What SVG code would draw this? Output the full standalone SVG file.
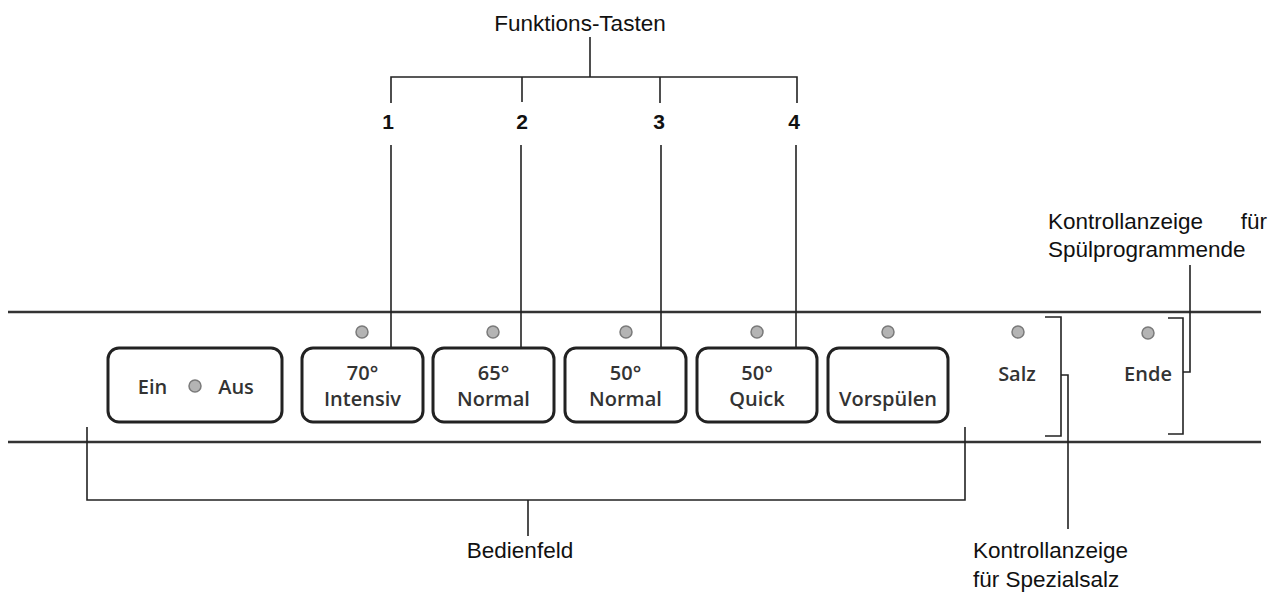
<svg xmlns="http://www.w3.org/2000/svg" width="1273" height="598" viewBox="0 0 1273 598">
<style>
.lbl{font-family:"Liberation Sans",Arial,sans-serif;font-size:22.5px;fill:#111}
.num{font-family:"Liberation Sans",Arial,sans-serif;font-size:21px;font-weight:bold;fill:#111;text-anchor:middle}
.bt{font-family:"Open Sans","Noto Sans",sans-serif;font-size:20px;font-weight:600;fill:#333;text-anchor:middle}
.btn{fill:#fff;stroke:#222;stroke-width:3}
.dot{fill:#b4b4b4;stroke:#7a7a7a;stroke-width:1.5}
.panel{stroke:#333;stroke-width:2.5;fill:none}
.ln{stroke:#222;stroke-width:1.6;fill:none}
</style>
<rect width="1273" height="598" fill="#fff"/>
<g id="panel">
<line class="panel" x1="8" y1="312" x2="1261" y2="312"/>
<line class="panel" x1="8" y1="442" x2="1261" y2="442"/>
</g>
<g id="connectors">
<polyline class="ln" points="391,103 391,77 797,77 797,103"/>
<line class="ln" x1="590" y1="37" x2="590" y2="77"/>
<line class="ln" x1="522" y1="77" x2="522" y2="102"/>
<line class="ln" x1="660" y1="77" x2="660" y2="103"/>
<line class="ln" x1="391" y1="145" x2="391" y2="367"/>
<line class="ln" x1="521" y1="145" x2="521" y2="367"/>
<line class="ln" x1="661" y1="145" x2="661" y2="367"/>
<line class="ln" x1="796" y1="145" x2="796" y2="367"/>
<polyline class="ln" points="87,427 87,500 965,500 965,427"/>
<line class="ln" x1="528" y1="500" x2="528" y2="536"/>
<polyline class="ln" points="1045,317 1061,317 1061,436 1045,436"/>
<polyline class="ln" points="1061,375 1068,375 1068,529"/>
<polyline class="ln" points="1168,318 1183,318 1183,434 1168,434"/>
<polyline class="ln" points="1183,372 1190,372 1190,265"/>
</g>
<g id="funktions-tasten">
<text class="lbl" x="580" y="31" text-anchor="middle">Funktions-Tasten</text>
<text class="num" x="388" y="129">1</text>
<text class="num" x="522" y="129">2</text>
<text class="num" x="659" y="129">3</text>
<text class="num" x="794" y="129">4</text>
</g>
<g id="ein-aus">
<rect class="btn" x="108" y="348" width="174" height="74" rx="11"/>
<text class="bt" x="152.5" y="394">Ein</text>
<circle class="dot" cx="195" cy="386" r="6"/>
<text class="bt" x="236" y="394">Aus</text>
</g>
<g id="btn-70-intensiv">
<circle class="dot" cx="362" cy="332" r="6"/>
<rect class="btn" x="302" y="348" width="121" height="74" rx="11"/>
<text class="bt" x="362.5" y="380">70°</text>
<text class="bt" x="362.5" y="406">Intensiv</text>
</g>
<g id="btn-65-normal">
<circle class="dot" cx="493" cy="332" r="6"/>
<rect class="btn" x="433" y="348" width="121" height="74" rx="11"/>
<text class="bt" x="493.5" y="380">65°</text>
<text class="bt" x="493.5" y="406">Normal</text>
</g>
<g id="btn-50-normal">
<circle class="dot" cx="626" cy="332" r="6"/>
<rect class="btn" x="565" y="348" width="121" height="74" rx="11"/>
<text class="bt" x="625.5" y="380">50°</text>
<text class="bt" x="625.5" y="406">Normal</text>
</g>
<g id="btn-50-quick">
<circle class="dot" cx="757" cy="332" r="6"/>
<rect class="btn" x="697" y="348" width="120" height="74" rx="11"/>
<text class="bt" x="757" y="380">50°</text>
<text class="bt" x="757" y="406">Quick</text>
</g>
<g id="btn-vorspuelen">
<circle class="dot" cx="888" cy="332" r="6"/>
<rect class="btn" x="828" y="348" width="120" height="74" rx="11"/>
<text class="bt" x="888" y="406">Vorspülen</text>
</g>
<g id="salz">
<circle class="dot" cx="1018" cy="332" r="6"/>
<text class="bt" x="1017" y="381">Salz</text>
</g>
<g id="ende">
<circle class="dot" cx="1148" cy="333" r="6"/>
<text class="bt" x="1148" y="381">Ende</text>
</g>
<g id="label-bedienfeld">
<text class="lbl" x="520" y="558" text-anchor="middle">Bedienfeld</text>
</g>
<g id="label-spezialsalz">
<text class="lbl" x="973" y="558">Kontrollanzeige</text>
<text class="lbl" x="973" y="587">für Spezialsalz</text>
</g>
<g id="label-programmende">
<text class="lbl" x="1048" y="229">Kontrollanzeige</text>
<text class="lbl" x="1267" y="229" text-anchor="end">für</text>
<text class="lbl" x="1048" y="257">Spülprogrammende</text>
</g>
</svg>
